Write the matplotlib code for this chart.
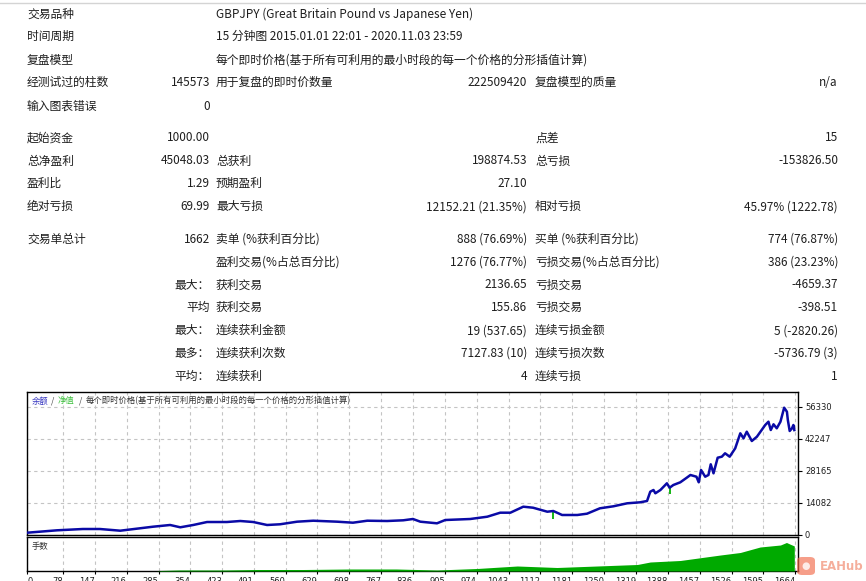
import matplotlib
matplotlib.use("Agg")
import matplotlib.pyplot as plt
from matplotlib.patches import FancyBboxPatch

plt.rcParams['font.family'] = ['Noto Sans CJK SC', 'DejaVu Sans']

# balance curve (trade number, balance)
trade_idx = [0, 65, 121, 158, 202, 273, 310, 332, 360, 390, 433, 462, 490, 520, 548,
             585, 620, 672, 706, 737, 780, 815, 836, 852, 888, 906, 960, 997, 1025, 1047,
             1075, 1096, 1127, 1140, 1159, 1192, 1213, 1241, 1270, 1300, 1328, 1343, 1350,
             1357, 1361, 1372, 1386, 1392, 1400, 1415, 1429, 1437, 1450, 1455, 1460, 1469,
             1476, 1481, 1487, 1496, 1505, 1512, 1522, 1534, 1545, 1552, 1559, 1570, 1581,
             1599, 1606, 1611, 1617, 1624, 1632, 1640, 1646, 1648, 1652, 1657, 1660, 1662]
balance = [1000, 2060, 2630, 2630, 1890, 3640, 4390, 3380, 4390, 5700, 5700, 6140, 5700, 4390, 4700,
           5840, 6270, 5840, 5400, 6270, 6140, 6450, 7020, 5840, 5130, 6580, 7020, 8030, 9790, 9790,
           12420, 11980, 10220, 10530, 8780, 8780, 9350, 11720, 12590, 13910, 14350, 14920, 19000,
           19750, 18300, 19750, 22680, 20760, 21940, 23120, 25140, 26330, 25580, 23120, 28520, 25580,
           26330, 31020, 27070, 33920, 34360, 35850, 34360, 38040, 44630, 42430, 45330, 41250, 43130,
           48270, 49720, 46070, 48580, 46820, 49720, 55860, 54100, 50460, 45640, 46820, 48270, 46050]

# equity dips that show below the balance line
dip_idx = [1140, 1392]
dip_low = [7020, 17990]
dip_high = [10530, 20760]

# lot sizes
lot_idx = [280, 290, 330, 370, 430, 500, 600, 700, 800, 888, 975, 1062, 1148, 1235, 1322,
           1350, 1415, 1502, 1545, 1588, 1632, 1645, 1662]
lots = [0.0, 0.01, 0.02, 0.02, 0.02, 0.03, 0.03, 0.04, 0.04, 0.02, 0.05, 0.10, 0.07, 0.10, 0.13,
        0.18, 0.21, 0.32, 0.37, 0.48, 0.52, 0.57, 0.50]

ytick_vals = [0, 14082, 28165, 42247, 56330]
xtick_vals = [0, 78, 147, 216, 285, 354, 423, 491, 560, 629, 698, 767, 836, 905, 974,
              1043, 1112, 1181, 1250, 1319, 1388, 1457, 1526, 1595, 1664]

# report table: label, value, label, value, label, value
report_rows = [
    ("交易品种", "", "GBPJPY (Great Britain Pound vs Japanese Yen)", "", "", ""),
    ("时间周期", "", "15 分钟图 2015.01.01 22:01 - 2020.11.03 23:59", "", "", ""),
    ("复盘模型", "", "每个即时价格(基于所有可利用的最小时段的每一个价格的分形插值计算)", "", "", ""),
    ("经测试过的柱数", "145573", "用于复盘的即时价数量", "222509420", "复盘模型的质量", "n/a"),
    ("输入图表错误", "0", "", "", "", ""),
    ("起始资金", "1000.00", "", "", "点差", "15"),
    ("总净盈利", "45048.03", "总获利", "198874.53", "总亏损", "-153826.50"),
    ("盈利比", "1.29", "预期盈利", "27.10", "", ""),
    ("绝对亏损", "69.99", "最大亏损", "12152.21 (21.35%)", "相对亏损", "45.97% (1222.78)"),
    ("交易单总计", "1662", "卖单 (%获利百分比)", "888 (76.69%)", "买单 (%获利百分比)", "774 (76.87%)"),
    ("", "", "盈利交易(%占总百分比)", "1276 (76.77%)", "亏损交易(%占总百分比)", "386 (23.23%)"),
    ("", "最大：", "获利交易", "2136.65", "亏损交易", "-4659.37"),
    ("", "平均", "获利交易", "155.86", "亏损交易", "-398.51"),
    ("", "最大：", "连续获利金额", "19 (537.65)", "连续亏损金额", "5 (-2820.26)"),
    ("", "最多：", "连续获利次数", "7127.83 (10)", "连续亏损次数", "-5736.79 (3)"),
    ("", "平均：", "连续获利", "4", "连续亏损", "1"),
]
row_y = [14, 36.7, 60, 82.7, 106, 137.7, 161, 183.3, 206.7, 239.3, 261.7, 285, 307.7,
         330.7, 353.3, 376.7]

W, H = 866, 581
fig = plt.figure(figsize=(W / 100, H / 100), dpi=100)
fig.patch.set_facecolor('white')


def fx(px):
    return px / W


def fy(py):
    return 1 - py / H


fig.add_artist(plt.Line2D([0, 1], [fy(2.5), fy(2.5)], color='#d4d4d4', lw=1))

txt = dict(fontsize=8.5, color='#1e1e1e', va='center')
for row, y in zip(report_rows, row_y):
    l1, v1, l2, v2, l3, v3 = row
    fig.text(fx(27), fy(y), l1, ha='left', **txt)
    fig.text(fx(210), fy(y), v1, ha='right', **txt)
    fig.text(fx(216), fy(y), l2, ha='left', **txt)
    fig.text(fx(527), fy(y), v2, ha='right', **txt)
    fig.text(fx(535), fy(y), l3, ha='left', **txt)
    fig.text(fx(838), fy(y), v3, ha='right', **txt)

grid_kw = dict(color='#c4c4c4', linestyle=(0, (3, 3)), lw=0.8)
xmax = 1670

# main balance chart
ax = fig.add_axes([fx(27), fy(535), fx(798) - fx(27), fy(392) - fy(535)])
ax.plot(trade_idx, balance, color='#0a0aa6', lw=1.8, zorder=3)
ax.vlines(dip_idx, dip_low, dip_high, color='#00b000', lw=1.3, zorder=2)
ax.set_xlim(0, xmax)
ax.set_ylim(0, 62750)
ax.set_xticks(xtick_vals)
ax.set_xticklabels([])
ax.tick_params(axis='x', length=0)
ax.yaxis.tick_right()
ax.set_yticks(ytick_vals)
ax.set_yticklabels([str(v) for v in ytick_vals], fontsize=6, family='DejaVu Sans', color='#1e1e1e')
ax.tick_params(axis='y', length=3, width=0.8, pad=2)
ax.grid(True, **grid_kw)
ax.set_axisbelow(True)
for s in ax.spines.values():
    s.set_color('black')
    s.set_linewidth(1)

fig.text(fx(32), fy(401), "余额", fontsize=6, color='#3535c0', va='center')
fig.text(fx(51), fy(401), "/", fontsize=6, color='#444444', va='center')
fig.text(fx(58), fy(401), "净值", fontsize=6, color='#3cc03c', va='center')
fig.text(fx(79), fy(401), "/", fontsize=6, color='#444444', va='center')
fig.text(fx(86), fy(401), "每个即时价格(基于所有可利用的最小时段的每一个价格的分形插值计算)",
         fontsize=6, color='#333333', va='center')

# lots panel
ax2 = fig.add_axes([fx(27), fy(571), fx(798) - fx(27), fy(537) - fy(571)])
ax2.fill_between(lot_idx, lots, color='#00aa00', lw=0, zorder=3)
ax2.set_xlim(0, xmax)
ax2.set_ylim(0, 0.68)
ax2.set_yticks([])
ax2.set_xticks(xtick_vals)
labs = ax2.set_xticklabels([str(v) for v in xtick_vals], fontsize=6, family='DejaVu Sans',
                           color='#1e1e1e')
for i, lab in enumerate(labs):
    lab.set_ha('left' if i == 0 else 'right')
ax2.tick_params(axis='x', length=2, width=0.8, pad=2)
ax2.grid(True, axis='x', **grid_kw)
ax2.set_axisbelow(True)
for s in ax2.spines.values():
    s.set_color('black')
    s.set_linewidth(1)
fig.text(fx(32), fy(547), "手数", fontsize=6, color='#333333', va='center')

# watermark
fig.add_artist(FancyBboxPatch((fx(797), fy(575)), fx(18), fy(557) - fy(575),
                              boxstyle="round,pad=0,rounding_size=0.006",
                              transform=fig.transFigure, color='#f26b4a', alpha=0.65,
                              lw=0, zorder=10))
fig.text(fx(806), fy(566), "●", fontsize=7, color='white', ha='center', va='center',
         alpha=0.8, zorder=11, family='DejaVu Sans')
fig.text(fx(820), fy(566), "EAHub", fontsize=8.5, fontweight='bold', color='#f4a08a',
         va='center', alpha=0.85, zorder=11, family='DejaVu Sans')

fig.savefig("out.png", dpi=100)
